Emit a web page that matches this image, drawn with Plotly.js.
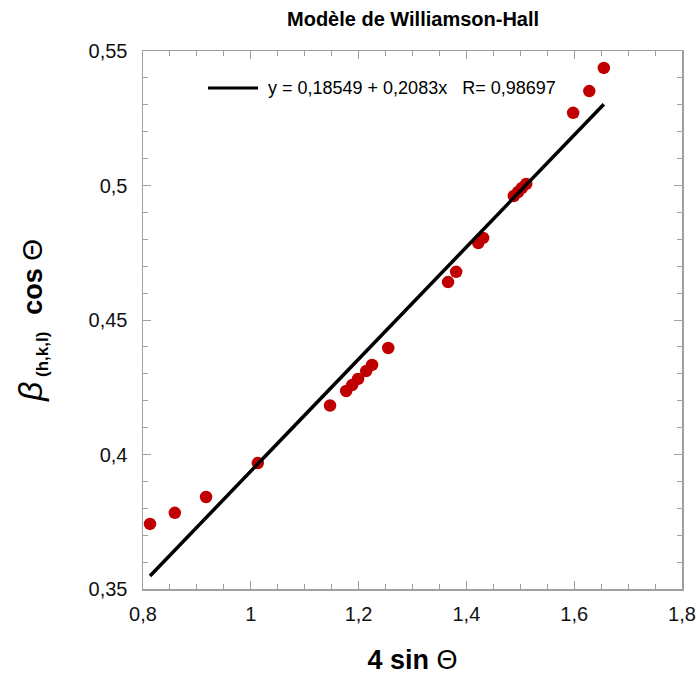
<!DOCTYPE html>
<html>
<head>
<meta charset="utf-8">
<script src="https://cdn.plot.ly/plotly-3.0.1.min.js"></script>
<style>html,body{margin:0;padding:0;background:#fff;}#chart{width:696px;height:676px;}</style>
</head>
<body>
<div id="chart"></div>
<script>
// Data
const sinTheta4 = [0.813, 0.859, 0.917, 1.013, 1.147, 1.177, 1.188, 1.199, 1.214, 1.225, 1.255,
  1.366, 1.381, 1.422, 1.431, 1.488, 1.496, 1.503, 1.511, 1.598, 1.628, 1.655];
const betaCos = [0.3742, 0.3783, 0.3842, 0.3968, 0.4182, 0.4236, 0.4258, 0.4281, 0.4310, 0.4333, 0.4396,
  0.4641, 0.4679, 0.4786, 0.4805, 0.4961, 0.4976, 0.4991, 0.5006, 0.5270, 0.5351, 0.5437];
const fitIntercept = 0.18549;
const fitSlope = 0.2083;
const fitR = 0.98697;
const xTickVals = [0.8, 1, 1.2, 1.4, 1.6, 1.8];
const yTickVals = [0.35, 0.4, 0.45, 0.5, 0.55];

const xMin = Math.min(...sinTheta4), xMax = Math.max(...sinTheta4);
const fitX = [xMin, xMax];
const fitY = fitX.map(v => fitIntercept + fitSlope * v);
const fmt = v => String(v).replace('.', ',');
const fitLabel = 'y = ' + fmt(fitIntercept) + ' + ' + fmt(fitSlope) + 'x   R= ' + fmt(fitR);

const FONT = 'Liberation Sans, Arial, sans-serif';
const NB = '\u00A0';

const traces = [
  {
    x: sinTheta4, y: betaCos, type: 'scatter', mode: 'markers',
    marker: {color: '#c00000', size: 12.5},
    showlegend: false, cliponaxis: false
  },
  {
    x: fitX, y: fitY, type: 'scatter', mode: 'lines',
    line: {color: '#000', width: 3.5},
    name: fitLabel, showlegend: false
  }
];

const axisCommon = {
  showgrid: false, zeroline: false,
  showline: true, linecolor: '#a0a0a0', linewidth: 1.5, mirror: 'ticks',
  ticks: 'inside', ticklen: 8, tickwidth: 1, tickcolor: '#a0a0a0',
  tickfont: {family: FONT, size: 20, color: '#111'},
};

const yTitle = '<i><span style="font-size:34px">β</span></i><b><sub><span style="font-size:17px">' + NB + '(h,k,l)' +
  NB + NB + '</span></sub> cos </b><span style="font-size:28px">Θ</span>';

const layout = {
  width: 696, height: 676,
  margin: {l: 143, r: 14, t: 51, b: 87},
  paper_bgcolor: '#fff', plot_bgcolor: '#fff',
  separators: ', ',
  showlegend: false,
  title: {
    text: '<b>Modèle de Williamson-Hall</b>',
    font: {family: FONT, size: 20, color: '#000'},
    x: 0.5935, xanchor: 'center', y: 0.972, yanchor: 'middle'
  },
  xaxis: Object.assign({}, axisCommon, {
    range: [0.8, 1.8], tickvals: xTickVals,
    ticklabelstandoff: 6,
    minor: {dtick: 0.05, ticks: 'inside', ticklen: 5, tickcolor: '#a0a0a0'},
    title: {text: '<b>4 sin </b>Θ', standoff: 26,
      font: {family: FONT, size: 27, color: '#000'}}
  }),
  yaxis: Object.assign({}, axisCommon, {
    range: [0.35, 0.55], tickvals: yTickVals,
    ticklabelstandoff: 10,
    minor: {dtick: 0.01, ticks: 'inside', ticklen: 5, tickcolor: '#a0a0a0'},
    title: {text: yTitle, standoff: 38, font: {family: FONT, size: 27, color: '#000'}}
  }),
  shapes: [
    {type: 'line', xref: 'paper', yref: 'paper', x0: 0.1206, x1: 0.2134, y0: 0.9312, y1: 0.9312,
     line: {color: '#000', width: 3}}
  ],
  annotations: [
    {xref: 'paper', yref: 'paper', x: 0.228, y: 0.9312, xanchor: 'left', yanchor: 'middle',
     text: fitLabel, showarrow: false, font: {family: FONT, size: 18, color: '#000'}}
  ]
};

Plotly.newPlot('chart', traces, layout, {displayModeBar: false, staticPlot: true});
</script>
</body>
</html>
